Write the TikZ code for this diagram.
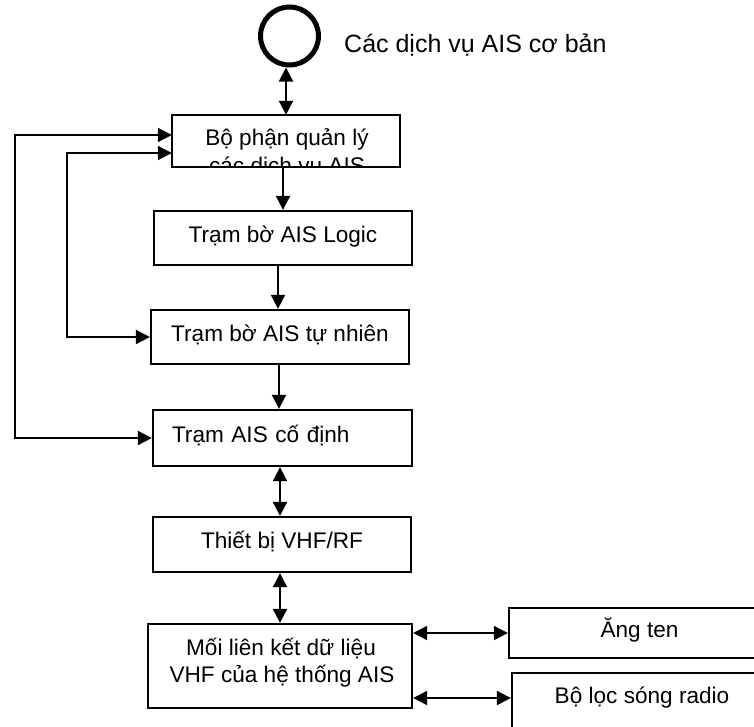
\documentclass[tikz,border=0pt]{standalone}
\usepackage{fontspec}
\setmainfont{Liberation Sans}
\usetikzlibrary{arrows.meta}
\tikzset{
  txt/.style={font=\fontsize{22.6}{27}\selectfont, inner sep=0pt},
  frame/.style={draw, line width=2.3pt, inner sep=0pt},
  box/.style={frame, font=\fontsize{22.6}{27}\selectfont, text height=16pt, text depth=8pt},
  arr/.style={line width=2pt, -{Triangle[length=14pt,width=14pt]}},
  dbl/.style={line width=2pt, {Triangle[length=14pt,width=14pt]}-{Triangle[length=14pt,width=14pt]}},
}
\begin{document}
\begin{tikzpicture}[x=1pt,y=-1pt]
\path[use as bounding box] (0,0) rectangle (754,726);
\begin{scope}
\clip (0,0) rectangle (754,726);

% start circle and title
\node[draw, circle, line width=5pt, minimum size=58pt, inner sep=0pt] (c0) at (289.5,36) {};
\node[txt, anchor=base west, font=\fontsize{25}{29}\selectfont] (t0) at (344,52) {Các dịch vụ AIS cơ bản};

% box 1 with its clipped second line
\path (286,141) node[inner sep=0pt, minimum width=228pt, minimum height=52pt] (b1) {};
\begin{scope}
  \clip (b1.south west) rectangle (b1.north east);
  \node[txt, anchor=base] (b1a) at (287,145) {Bộ phận quản lý};
  \node[txt, anchor=base] (b1b) at (287,173) {các dịch vụ AIS};
\end{scope}
\draw[line width=2.3pt] (b1.south west) rectangle (b1.north east);

\node[box, minimum width=258pt, minimum height=54pt] (b2) at (283,238) {Trạm bờ AIS Logic};
\node[box, minimum width=258pt, minimum height=54pt] (b3) at (280,337) {Trạm bờ AIS tự nhiên};
\node[box, minimum width=259pt, minimum height=56pt, inner xsep=19pt, text width=221pt, align=left] (b4) at (282.5,438) {Trạm AIS cố định};
\node[box, minimum width=258pt, minimum height=55pt] (b5) at (282,544.5) {Thiết bị VHF/RF};
\node[frame, minimum width=264pt, minimum height=84pt] (b6) at (280,666) {};
\node[txt, anchor=base] (b6a) at (281,655) {Mối liên kết dữ liệu};
\node[txt, anchor=base] (b6b) at (282,682) {VHF của hệ thống AIS};
\node[box, minimum width=261pt, minimum height=50pt] (b7) at (639.5,633) {Ăng ten};
\node[box, minimum width=260pt, minimum height=67pt, text depth=23pt] (b8) at (642,706.5) {Bộ lọc sóng radio};

% vertical connectors
\draw[dbl] ([xshift=-3.5pt]c0.south) -- ([xshift=-3.5pt]c0.south |- b1.north);
\draw[arr] ([xshift=-3pt]b1.south) -- ([xshift=-3pt]b1.south |- b2.north);
\draw[arr] ([xshift=-5pt]b2.south) -- ([xshift=-5pt]b2.south |- b3.north);
\draw[arr] ([xshift=-1pt]b3.south) -- ([xshift=-1pt]b3.south |- b4.north);
\draw[dbl] ([xshift=-2.5pt]b4.south) -- ([xshift=-2.5pt]b4.south |- b5.north);
\draw[dbl] ([xshift=-2pt]b5.south) -- ([xshift=-2pt]b5.south |- b6.north);

% horizontal connectors to the right
\coordinate (b8in) at ([yshift=8.5pt]b8.west);
\draw[dbl] (b6.east |- b7.west) -- (b7.west);
\draw[dbl] (b6.east |- b8in) -- (b8in);

% feedback lines on the left
\coordinate (o1) at (15,135);
\coordinate (o2) at (15,438);
\coordinate (i1) at (67,153);
\coordinate (i2) at (67,337);
\draw[dbl] (b1.west |- o1) -- (o1) -- (o2) -- (b4.west |- o2);
\draw[dbl] (b1.west |- i1) -- (i1) -- (i2) -- (b3.west |- i2);
\end{scope}
\end{tikzpicture}
\end{document}
